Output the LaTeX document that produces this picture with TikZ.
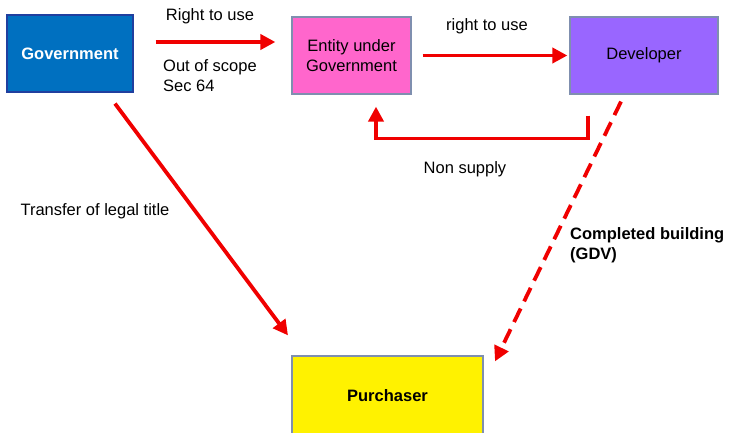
\documentclass[tikz,border=0pt]{standalone}
\usepackage{fontspec}
\setmainfont{Liberation Sans}
\usetikzlibrary{arrows.meta}
\definecolor{govblue}{HTML}{0070C0}
\definecolor{govedge}{HTML}{203F9F}
\definecolor{entpink}{HTML}{FF66CC}
\definecolor{devpurple}{HTML}{9966FF}
\definecolor{boxedge}{HTML}{7F8FAF}
\definecolor{arrred}{HTML}{F00000}
\begin{document}
\begin{tikzpicture}[x=1pt,y=1pt,
  box/.style={draw=boxedge,line width=1.2pt,minimum height=77pt,inner sep=0pt,align=center,font=\fontsize{16.5}{20}\selectfont},
  arr/.style={draw=arrred,line width=3.8pt,-{Triangle[length=15pt,width=15pt]}},
  lbl/.style={font=\fontsize{16.5}{20}\selectfont,align=left,inner sep=0pt}]
\useasboundingbox (0,0) rectangle (729,432);
\node[box,fill=govblue,draw=govedge,minimum width=126pt,text=white,font=\fontsize{16.5}{20}\selectfont\bfseries] (gov) at (70,378.5) {Government};
\node[box,fill=entpink,minimum width=119pt] (ent) at (351.5,376.5) {Entity under\\Government};
\node[box,fill=devpurple,minimum width=148pt] (dev) at (644,376.5) {Developer};
\node[box,fill=yellow,minimum width=191pt,minimum height=80pt,font=\fontsize{16.5}{20}\selectfont\bfseries] (pur) at (387.5,36) {Purchaser};

\draw[arr,shorten <=22pt,shorten >=16pt] ([yshift=11.5pt]gov.east) -- ([yshift=13.5pt]ent.west);
\draw[arr,shorten <=11pt,shorten >=2pt] (ent.east) -- (dev.west);
\draw[arr,line join=miter] ([xshift=-56pt,yshift=-21pt]dev.south) -- ++(0,-23) -| ([xshift=24.5pt,yshift=-12pt]ent.south);
\draw[arr] ([xshift=45pt,yshift=-11pt]gov.south) -- ([xshift=-99.5pt,yshift=20pt]pur.north);
\draw[arr,dash pattern=on 15pt off 8pt] ([xshift=-23pt,yshift=-7pt]dev.south) -- ([xshift=107.5pt,yshift=-6pt]pur.north);

\node[lbl] (l1) at (210,416) {Right to use};
\node[lbl,anchor=west] (l2) at (163,356) {Out of scope\\Sec 64};
\node[lbl] (l3) at (487,406) {right to use};
\node[lbl] (l4) at (465,263) {Non supply};
\node[lbl] (l5) at (95,221) {Transfer of legal title};
\node[lbl,anchor=west,font=\fontsize{16.5}{20}\selectfont\bfseries] (l6) at (570,187) {Completed building\\(GDV)};
\end{tikzpicture}
\end{document}
